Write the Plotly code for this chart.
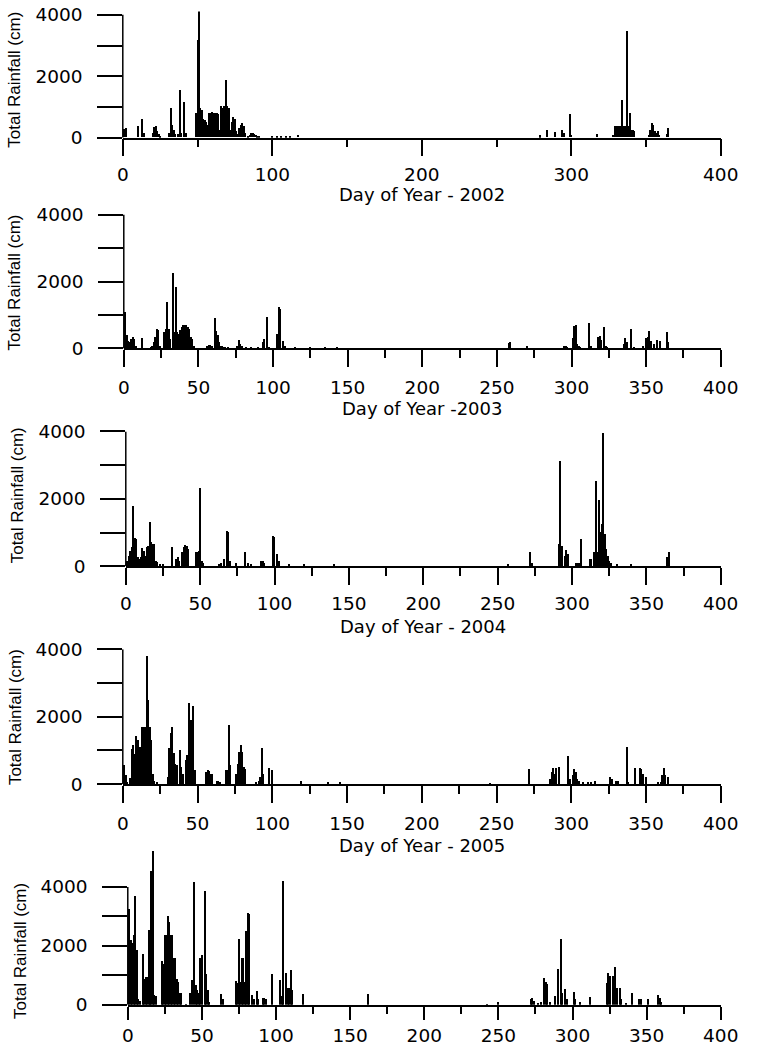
import plotly.graph_objects as go

# ---------------- data (day of year, total rainfall in cm) ----------------
days_2002 = [1, 2, 10, 13, 14, 20, 21, 22, 23, 24, 25, 31, 32, 33, 34, 35, 37, 38, 39, 41, 42,
             49, 50, 51, 52, 53, 54, 55, 56, 57, 58, 59, 60, 61, 62, 63, 64, 65, 66, 67, 68, 69,
             70, 71, 72, 73, 74, 75, 76, 77, 78, 79, 80, 81, 82, 84, 85, 86, 87, 88, 89, 90, 91,
             100, 103, 106, 109, 112, 117,
             279, 284, 289, 294, 295, 299, 300, 317, 328, 329, 330, 331, 332, 333, 334, 335, 336,
             337, 338, 339, 340, 341, 342, 352, 353, 354, 355, 356, 357, 358, 359, 364, 365]
rain_2002 = [280, 290, 350, 600, 120, 120, 330, 350, 200, 100, 50, 150, 940, 400, 250, 100, 100, 1530, 150, 1130, 120,
             780, 3150, 4450, 950, 900, 600, 550, 500, 400, 800, 800, 820, 800, 800, 780, 750, 250, 1000, 950, 1000, 1850,
             1000, 950, 250, 500, 650, 600, 200, 100, 300, 400, 450, 350, 150, 40, 80, 120, 130, 110, 80, 50, 30,
             40, 40, 50, 40, 40, 80,
             60, 220, 160, 240, 150, 750, 80, 100, 80, 350, 380, 350, 380, 380, 1200, 350, 350,
             3450, 380, 780, 250, 250, 200, 80, 250, 450, 400, 200, 150, 200, 80, 100, 300]

days_2003 = [1, 2, 3, 4, 5, 6, 7, 8, 12, 18, 19, 20, 21, 22, 23, 24, 27, 28, 29, 30, 31, 33, 34, 35, 36, 37,
             38, 39, 40, 41, 42, 43, 44, 45, 46, 47, 56, 57, 58, 59, 61, 62, 63, 64, 65, 66, 67, 68, 70,
             76, 77, 78, 79, 82, 85, 90, 93, 94, 96, 97, 103, 104, 105, 107, 108, 115, 125, 135, 143,
             258, 259, 270, 295, 296, 297, 301, 302, 303, 304, 305, 306, 312, 313, 318, 319, 320, 322,
             323, 324, 335, 336, 337, 340, 342, 348, 350, 351, 352, 353, 355, 357, 359, 364, 365]
rain_2003 = [1100, 400, 250, 200, 300, 350, 300, 100, 330, 50, 100, 200, 350, 600, 550, 100, 500, 600, 1400, 600, 300, 2280, 500, 1840, 500, 450,
             550, 650, 700, 720, 700, 650, 600, 350, 300, 100, 100, 120, 130, 100, 920, 520, 400, 200, 100, 80, 60, 50, 50,
             100, 270, 150, 80, 50, 40, 50, 200, 300, 960, 50, 450, 1260, 1200, 250, 100, 30, 30, 30, 50,
             170, 200, 80, 80, 100, 60, 320, 680, 700, 150, 100, 50, 760, 80, 350, 380, 270, 640,
             80, 60, 150, 320, 200, 600, 50, 80, 320, 350, 520, 250, 150, 270, 250, 490, 200]

days_2004 = [1, 2, 3, 4, 5, 6, 7, 8, 9, 10, 11, 12, 13, 14, 15, 16, 17, 18, 19, 20, 21, 23, 25, 31, 34, 35, 36,
             38, 39, 40, 41, 42, 47, 48, 49, 50, 51, 52, 63, 64, 66, 68, 69, 70, 74, 80, 82, 84, 91, 92, 93,
             99, 100, 102, 103, 110, 120, 140,
             257, 272, 273, 291, 292, 293, 295, 296, 297, 303, 304, 305, 306, 312, 313, 315, 316, 317, 318,
             319, 320, 321, 322, 323, 324, 325, 326, 330, 340, 364, 365]
rain_2004 = [150, 300, 450, 550, 1780, 820, 800, 250, 200, 250, 520, 450, 300, 550, 600, 1290, 700, 650, 650, 150, 120, 30, 30, 550, 200, 250, 150,
             400, 550, 620, 600, 500, 420, 400, 450, 2320, 150, 100, 50, 80, 200, 1040, 1000, 150, 100, 420, 80, 60, 150, 150, 100,
             900, 850, 350, 150, 30, 30, 30,
             30, 410, 100, 660, 3120, 600, 300, 460, 350, 80, 100, 100, 810, 200, 200, 410, 2530, 400, 1940,
             1000, 1250, 3940, 960, 510, 300, 150, 100, 50, 30, 270, 400]

days_2005 = [1, 2, 3, 5, 6, 7, 8, 9, 10, 11, 12, 13, 14, 15, 16, 17, 18, 19, 20, 21, 23, 30, 31, 32, 33, 34, 35,
             36, 38, 39, 40, 42, 43, 44, 45, 46, 47, 48, 56, 57, 58, 59, 60, 63, 64, 65, 69, 70, 71, 72, 76,
             77, 78, 79, 80, 81, 82, 89, 91, 92, 93, 94, 98, 100, 119, 137, 145,
             246, 272, 286, 287, 288, 289, 290, 292, 298, 299, 301, 302, 303, 304, 305, 308, 311, 313, 316,
             326, 327, 330, 331, 337, 338, 343, 346, 347, 348, 350, 358, 360, 361, 362, 363, 365]
rain_2005 = [570, 250, 50, 160, 1040, 1160, 900, 1410, 1300, 1100, 1100, 1700, 1700, 1700, 3800, 2490, 1700, 1310, 300, 100, 50, 200, 1060, 1500, 1700, 920, 600,
             550, 1010, 500, 300, 700, 870, 2410, 1900, 1900, 2310, 400, 350, 400, 380, 300, 300, 80, 80, 60, 400, 400, 1740, 550, 300,
             600, 950, 1150, 950, 500, 450, 50, 80, 200, 1060, 300, 460, 400, 100, 70, 40,
             20, 440, 150, 350, 460, 300, 460, 510, 830, 150, 250, 430, 350, 150, 100, 60, 60, 60, 100,
             200, 150, 100, 100, 1100, 50, 460, 460, 450, 300, 200, 50, 50, 250, 480, 250, 200]

days_2006 = [1, 2, 3, 4, 5, 6, 7, 8, 10, 11, 12, 13, 14, 15, 16, 17, 18, 19, 23, 24, 25, 26, 27, 28, 29, 30,
             31, 32, 33, 34, 35, 36, 39, 42, 43, 45, 46, 47, 48, 49, 50, 52, 53, 54, 55, 63, 64, 73, 74, 75,
             76, 77, 78, 79, 80, 81, 82, 84, 85, 87, 88, 91, 92, 93, 97, 103, 104, 105, 107, 108, 109, 110,
             111, 118, 162,
             242, 250, 272, 273, 274, 277, 279, 281, 282, 283, 285, 288, 290, 292, 293, 295, 296, 301, 302,
             305, 312, 323, 324, 325, 327, 329, 330, 332, 333, 336, 340, 345, 346, 351, 358, 359, 360]
rain_2006 = [3270, 2220, 2100, 2390, 3690, 1860, 200, 150, 1750, 900, 950, 950, 2560, 2550, 4560, 5240, 350, 300, 1500, 1400, 2370, 2370, 3010, 2820, 2390, 2390,
             1610, 1600, 900, 800, 400, 400, 50, 400, 850, 4190, 700, 500, 400, 1600, 1700, 3890, 1070, 500, 100, 390, 200, 810, 750, 2250,
             800, 1610, 1600, 800, 2510, 3130, 3100, 350, 200, 480, 200, 250, 250, 200, 1070, 870, 300, 4230, 1100, 600, 600, 1180,
             500, 390, 390,
             50, 120, 200, 250, 150, 80, 100, 940, 800, 710, 100, 320, 1240, 2250, 400, 540, 200, 460, 200,
             100, 290, 770, 1080, 1000, 990, 1300, 600, 600, 200, 80, 400, 200, 200, 200, 340, 250, 100]

series_days = [days_2002, days_2003, days_2004, days_2005, days_2006]
series_rain = [rain_2002, rain_2003, rain_2004, rain_2005, rain_2006]
x_titles = ["Day of Year - 2002", "Day of Year -2003", "Day of Year - 2004", "Day of Year - 2005", ""]
x_tick_step = [100, 50, 50, 50, 50]
y_tick_vals = [0, 1000, 2000, 3000, 4000]
y_tick_text = ["0", "", "2000", "", "4000"]
y_title = "Total Rainfall (cm)"

# ---------------- layout geometry ----------------
W, H = 757, 1054
# calibrated mapping from page pixels to the photographed picture
AX, SX = 6.0, 0.970
AY, SY = 10.2, 0.981


def px(s):
    """picture x (px) -> paper fraction"""
    return (s - AX) / SX / W


def py(s):
    """picture y (px, from top) -> paper fraction"""
    return 1 - (s - AY) / SY / H


# target picture positions: (x at day 0, x at day 400, y of zero line, y of 4000 line, y range top)
geom = [
    (123, 722, 137, 14, 4450),
    (124, 722, 348, 214, 4000),
    (126, 722, 566, 431, 4000),
    (123, 722, 784, 649, 4000),
    (128, 722, 1005, 887, 5300),
]
x_ticklen = [17, 17, 17, 17, 13]
x_minorlen = [8, 8, 8, 8, 7]
x_label_standoff = [2, 5, 3, 5, 0]
x_title_y = [194, 408, 626, 845, None]
y_title_pos = [(15, 79), (15, 282), (17, 495), (15, 717), (21, 951)]

tick_font = dict(family="DejaVu Sans", size=18.5, color="black")
title_font = dict(family="DejaVu Sans", size=18, color="black")
ytitle_font = dict(family="Liberation Sans", size=17, color="black")

fig = go.Figure()
layout = dict(width=W, height=H, margin=dict(l=0, r=0, t=0, b=0),
              paper_bgcolor="white", plot_bgcolor="white", showlegend=False,
              bargap=0, shapes=[], annotations=[])

for i, (days, rain) in enumerate(zip(series_days, series_rain)):
    n = i + 1
    sfx = "" if n == 1 else str(n)
    x0, x400, zs, y4s, ymax = geom[i]
    per_unit = (zs - y4s) / 4000.0              # picture px per cm
    top_s = max(zs - ymax * per_unit, AY + 0.5)
    ymax = (zs - top_s) / per_unit
    y_top = min(py(top_s), 1.0)
    fig.add_trace(go.Bar(x=days, y=rain, width=1.0,
                         marker=dict(color="black", line=dict(width=0)),
                         xaxis="x" + sfx, yaxis="y" + sfx))
    step = x_tick_step[i]
    layout["xaxis" + sfx] = dict(
        domain=[px(x0), px(x400)], range=[0, 400], anchor="y" + sfx,
        showline=True, linecolor="black", linewidth=1.5,
        ticks="outside", ticklen=x_ticklen[i], tickwidth=1.5, tickcolor="black",
        tickmode="linear", tick0=0, dtick=step,
        minor=dict(ticks="outside", ticklen=x_minorlen[i], tickwidth=1.5, tickcolor="black",
                   tickmode="linear", tick0=0, dtick=step / 2, showgrid=False),
        showgrid=False, zeroline=False, tickfont=tick_font,
        ticklabelstandoff=x_label_standoff[i], fixedrange=True)
    layout["yaxis" + sfx] = dict(
        domain=[py(zs), y_top], range=[0, ymax], anchor="x" + sfx,
        showline=False, ticks="outside", ticklen=24.5, tickwidth=1.5, tickcolor="black",
        tickmode="array", tickvals=y_tick_vals, ticktext=y_tick_text,
        showgrid=False, zeroline=False, tickfont=tick_font, ticklabelstandoff=11,
        fixedrange=True)
    layout["shapes"].append(dict(type="line", xref="x" + sfx + " domain", yref="y" + sfx,
                                 x0=0, x1=0, y0=0, y1=4000,
                                 line=dict(color="black", width=1.5)))
    if x_titles[i]:
        layout["annotations"].append(dict(
            text=x_titles[i], xref="paper", yref="paper",
            x=px((x0 + x400) / 2), y=py(x_title_y[i]),
            xanchor="center", yanchor="middle", showarrow=False, font=title_font))
    tx, ty = y_title_pos[i]
    layout["annotations"].append(dict(
        text=y_title, xref="paper", yref="paper", x=px(tx), y=py(ty),
        xanchor="center", yanchor="middle", textangle=-90, showarrow=False, font=ytitle_font))

fig.update_layout(**layout)
fig.write_html("out.html", config={"displayModeBar": False},
               post_script="document.body.style.margin='0';")
